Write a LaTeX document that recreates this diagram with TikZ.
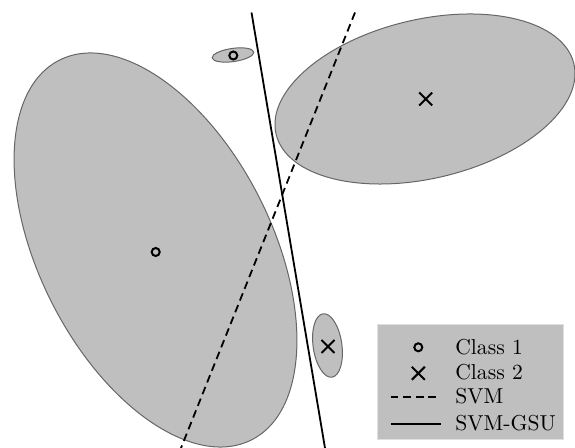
\documentclass[tikz,border=0pt]{standalone}
\usetikzlibrary{shapes.misc}
\begin{document}
\begin{tikzpicture}[x=0.5pt,y=-0.5pt,
  ellip/.style={fill=black!25,draw=black!60,line width=0.5pt},
  cls1/.style={circle,draw=black,line width=1pt,inner sep=0pt,minimum size=4pt},
  cls2/.style={cross out,draw=black,line width=1pt,inner sep=0pt,minimum size=5.5pt},
  svmline/.style={line width=0.9pt,dash pattern=on 3.9pt off 2.4pt},
  gsuline/.style={line width=0.9pt},
  legtext/.style={anchor=base west,inner sep=0pt,font=\fontsize{10.8pt}{13pt}\selectfont}]
\useasboundingbox (0,0) rectangle (575,448);
\begin{scope}
\clip (0,0) rectangle (575,448);
% ellipses
\draw[ellip,rotate around={26.85:(155.5,250)}] (155.5,250) ellipse [x radius=58.15pt,y radius=106.4pt];
\draw[ellip,rotate around={13.3:(425,99)}] (425,99) ellipse [x radius=76.5pt,y radius=39.75pt];
\draw[ellip,rotate around={8:(233,55)}] (233,55) ellipse [x radius=10.5pt,y radius=3.3pt];
\draw[ellip,rotate around={8:(327.5,345.5)}] (327.5,345.5) ellipse [x radius=7.2pt,y radius=16pt];
% separators
\coordinate (gsuTop) at (251.5,12.5);
\coordinate (gsuBot) at (325,448);
\coordinate (svmTop) at (355,12.5);
\coordinate (svmBot) at (181,448);
\draw[gsuline] (gsuTop) -- (gsuBot);
\draw[svmline] (svmTop) -- (svmBot);
\end{scope}
% markers
\node[cls1] (m1) at (155.7,252) {};
\node[cls1] (m2) at (233.3,55.5) {};
\node[cls2] (m3) at (425.7,99) {};
\node[cls2] (m4) at (328,346.5) {};
% legend
\node[fill=black!25,draw=black!12,line width=0.4pt,inner sep=0pt,minimum width=93pt,minimum height=57.5pt,anchor=north west] (legend) at (377,324) {};
\node[cls1] (l1) at (418.3,347.3) {};
\node[cls2] (l2) at (418.3,373.3) {};
\coordinate (l3a) at (390.7,397.3);
\coordinate (l3b) at (440,397.3);
\coordinate (l4a) at (390.7,424);
\coordinate (l4b) at (441,424);
\draw[svmline] (l3a) -- (l3b);
\draw[gsuline] (l4a) -- (l4b);
\node[legtext] (t1) at (455,355) {Class 1};
\node[legtext] (t2) at (455,380) {Class 2};
\node[legtext] (t3) at (455,404) {SVM};
\node[legtext] (t4) at (455,430.5) {SVM-GSU};
\end{tikzpicture}
\end{document}
